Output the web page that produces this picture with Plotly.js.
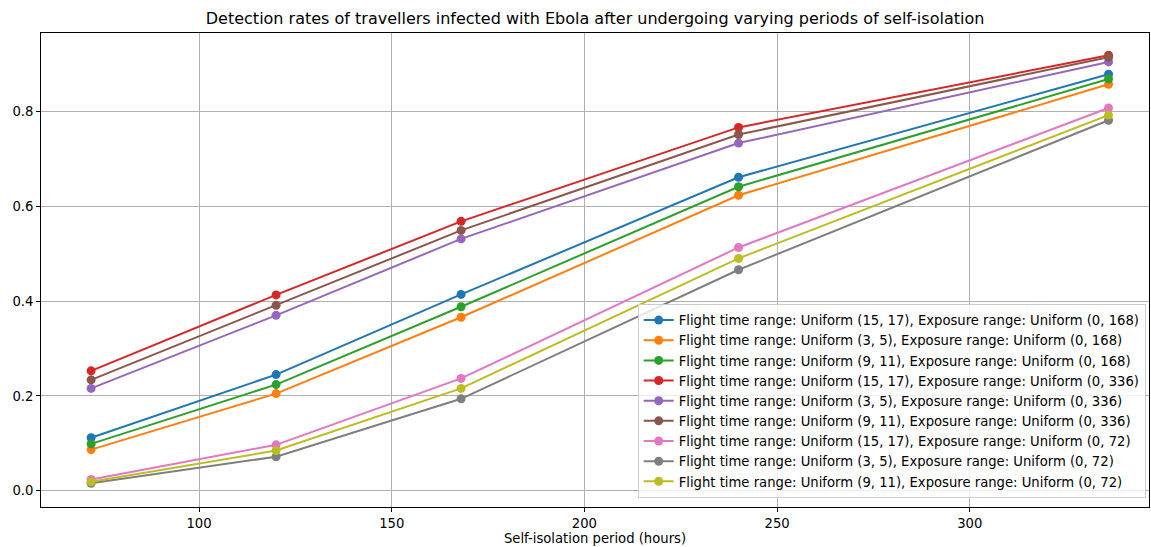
<!DOCTYPE html>
<html>
<head>
<meta charset="utf-8">
<script src="https://cdn.plot.ly/plotly-3.0.1.min.js"></script>
<style>html,body{margin:0;padding:0;background:#fff;}#chart{width:1151px;height:547px;}</style>
</head>
<body>
<div id="chart"></div>
<script>
const isolationHours = [72, 120, 168, 240, 336];

const seriesNames = [
  "Flight time range: Uniform (15, 17), Exposure range: Uniform (0, 168)",
  "Flight time range: Uniform (3, 5), Exposure range: Uniform (0, 168)",
  "Flight time range: Uniform (9, 11), Exposure range: Uniform (0, 168)",
  "Flight time range: Uniform (15, 17), Exposure range: Uniform (0, 336)",
  "Flight time range: Uniform (3, 5), Exposure range: Uniform (0, 336)",
  "Flight time range: Uniform (9, 11), Exposure range: Uniform (0, 336)",
  "Flight time range: Uniform (15, 17), Exposure range: Uniform (0, 72)",
  "Flight time range: Uniform (3, 5), Exposure range: Uniform (0, 72)",
  "Flight time range: Uniform (9, 11), Exposure range: Uniform (0, 72)"
];

const ft15_exp168 = [0.112, 0.245, 0.414, 0.661, 0.878];
const ft3_exp168  = [0.087, 0.205, 0.366, 0.623, 0.857];
const ft9_exp168  = [0.099, 0.224, 0.388, 0.641, 0.868];
const ft15_exp336 = [0.253, 0.413, 0.568, 0.766, 0.918];
const ft3_exp336  = [0.216, 0.370, 0.531, 0.733, 0.904];
const ft9_exp336  = [0.234, 0.391, 0.549, 0.751, 0.914];
const ft15_exp72  = [0.024, 0.097, 0.237, 0.513, 0.807];
const ft3_exp72   = [0.016, 0.072, 0.194, 0.466, 0.781];
const ft9_exp72   = [0.019, 0.085, 0.216, 0.490, 0.792];

const seriesValues = [ft15_exp168, ft3_exp168, ft9_exp168, ft15_exp336, ft3_exp336, ft9_exp336, ft15_exp72, ft3_exp72, ft9_exp72];
const colors = ["#1f77b4", "#ff7f0e", "#2ca02c", "#d62728", "#9467bd", "#8c564b", "#e377c2", "#7f7f7f", "#bcbd22"];

const traces = seriesValues.map((vals, i) => ({
  x: isolationHours,
  y: vals,
  name: seriesNames[i],
  type: "scatter",
  mode: "lines+markers",
  line: {color: colors[i], width: 2},
  marker: {color: colors[i], size: 9}
}));

const font = "DejaVu Sans, sans-serif";
const layout = {
  width: 1151, height: 547,
  margin: {l: 41, r: 2, t: 33, b: 40},
  paper_bgcolor: "#fff", plot_bgcolor: "#fff",
  font: {family: font, size: 13.2, color: "#000"},
  title: {text: "Detection rates of travellers infected with Ebola after undergoing varying periods of self-isolation",
          font: {family: font, size: 16, color: "#000"}, x: 0.517, xanchor: "center", y: 0.967, yanchor: "middle"},
  xaxis: {
    range: [59, 346.5], tickvals: [100, 150, 200, 250, 300],
    showgrid: true, gridcolor: "#b0b0b0", gridwidth: 1,
    showline: true, linecolor: "#000", linewidth: 1, mirror: true,
    ticks: "outside", ticklen: 4, tickcolor: "#000",
    zeroline: false,
    title: {text: "Self-isolation period (hours)", font: {family: font, size: 13.2}, standoff: 3},
    tickfont: {family: font, size: 13.2}
  },
  yaxis: {
    range: [-0.034, 0.965], tickvals: [0, 0.2, 0.4, 0.6, 0.8], tickformat: ".1f",
    showgrid: true, gridcolor: "#b0b0b0", gridwidth: 1,
    showline: true, linecolor: "#000", linewidth: 1, mirror: true,
    ticks: "outside", ticklen: 4, tickcolor: "#000",
    zeroline: false,
    tickfont: {family: font, size: 13.2}
  },
  legend: {
    x: 0.997, y: 0.019, xanchor: "right", yanchor: "bottom",
    bgcolor: "rgba(255,255,255,0.8)", bordercolor: "#cccccc", borderwidth: 1,
    font: {family: font, size: 13.2}, tracegroupgap: 0, itemwidth: 30
  },
  showlegend: true
};

Plotly.newPlot("chart", traces, layout, {displayModeBar: false, staticPlot: true});
</script>
</body>
</html>
